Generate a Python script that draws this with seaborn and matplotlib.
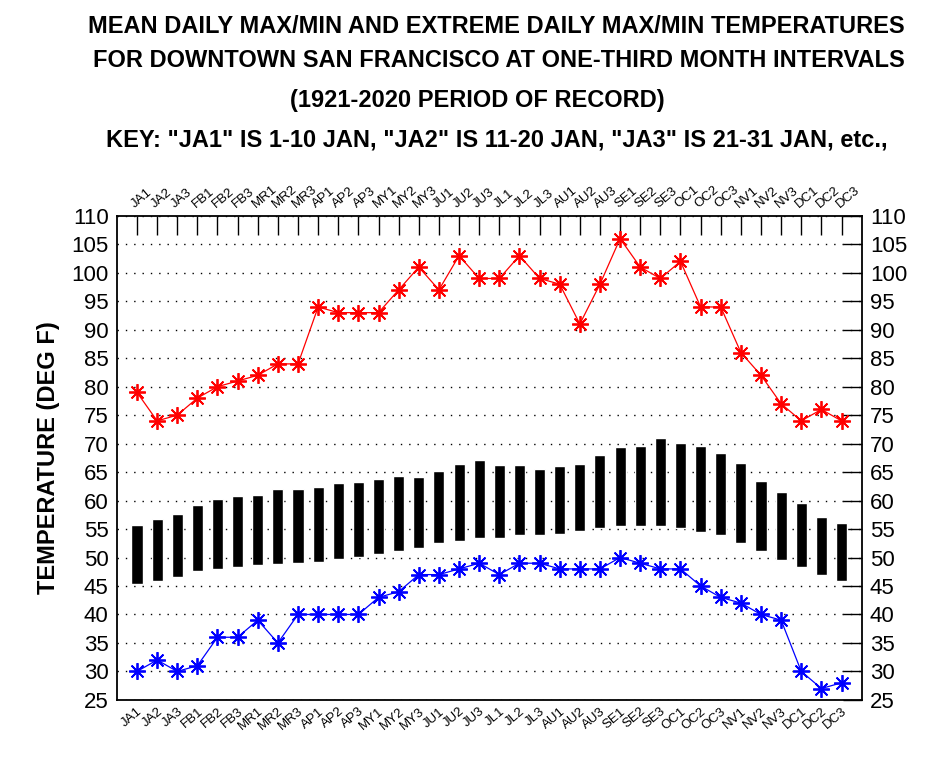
import numpy as np
import pandas as pd
import matplotlib
matplotlib.use("Agg")
import matplotlib.pyplot as plt
import seaborn as sns

# one-third month periods
periods = ["JA1", "JA2", "JA3", "FB1", "FB2", "FB3", "MR1", "MR2", "MR3",
           "AP1", "AP2", "AP3", "MY1", "MY2", "MY3", "JU1", "JU2", "JU3",
           "JL1", "JL2", "JL3", "AU1", "AU2", "AU3", "SE1", "SE2", "SE3",
           "OC1", "OC2", "OC3", "NV1", "NV2", "NV3", "DC1", "DC2", "DC3"]

# extreme daily max / min (deg F)
extreme_max = [79, 74, 75, 78, 80, 81, 82, 84, 84, 94, 93, 93, 93, 97, 101, 97, 103, 99,
               99, 103, 99, 98, 91, 98, 106, 101, 99, 102, 94, 94, 86, 82, 77, 74, 76, 74]
extreme_min = [30, 32, 30, 31, 36, 36, 39, 35, 40, 40, 40, 40, 43, 44, 47, 47, 48, 49,
               47, 49, 49, 48, 48, 48, 50, 49, 48, 48, 45, 43, 42, 40, 39, 30, 27, 28]

# mean daily max / min (deg F)
mean_max = [55.7, 56.7, 57.6, 59.2, 60.3, 60.8, 61.0, 62.0, 62.0, 62.4, 63.1, 63.2,
            63.8, 64.3, 64.1, 65.2, 66.4, 67.1, 66.2, 66.2, 65.5, 66.0, 66.4, 68.0,
            69.4, 69.6, 71.0, 70.1, 69.6, 68.3, 66.6, 63.4, 61.5, 59.6, 57.1, 56.1]
mean_min = [45.4, 45.8, 46.5, 47.7, 48.0, 48.3, 48.7, 48.9, 49.0, 49.3, 49.7, 50.1,
            50.7, 51.1, 51.7, 52.6, 52.9, 53.4, 53.4, 53.9, 53.9, 54.2, 54.6, 55.2,
            55.5, 55.5, 55.5, 55.2, 54.5, 53.9, 52.6, 51.1, 49.6, 48.3, 46.9, 45.8]

df = pd.DataFrame({"pos": np.arange(len(periods)), "period": periods,
                   "ext_max": extreme_max, "ext_min": extreme_min,
                   "mean_max": mean_max, "mean_min": mean_min})

sns.set_style("white")
plt.rcParams["font.family"] = ["Liberation Sans", "DejaVu Sans"]
plt.rcParams.update({"text.color": "black", "axes.labelcolor": "black",
                     "xtick.color": "black", "ytick.color": "black"})

fig, ax = plt.subplots(figsize=(9.5, 7.82), dpi=100)
fig.subplots_adjust(left=0.123, right=0.907, bottom=0.105, top=0.724)

# mean max/min bars
ax.bar(df["pos"], df["mean_max"] - df["mean_min"], bottom=df["mean_min"],
       width=0.55, color="black", zorder=3)

# extreme max / min lines
star = (8, 2, 0)
sns.lineplot(data=df, x="pos", y="ext_max", color="red", marker=star, markersize=12,
             markeredgecolor="red", markeredgewidth=1.3, linewidth=0.9, ax=ax, zorder=4)
sns.lineplot(data=df, x="pos", y="ext_min", color="blue", marker=star, markersize=12,
             markeredgecolor="blue", markeredgewidth=1.3, linewidth=0.9, ax=ax, zorder=4)

ax.set_xlim(-1, 36)
ax.set_ylim(25, 110)
ax.set_yticks(range(25, 111, 5))
ax.set_xticks(df["pos"])
ax.set_xticklabels(periods)
ax.set_xlabel("")
ax.set_ylabel("TEMPERATURE (DEG F)", fontsize=17, fontweight="bold", labelpad=8)

ax.yaxis.grid(True, color="black", linestyle=(0, (1, 5)), linewidth=1.0)
ax.xaxis.grid(False)

ax.tick_params(axis="both", direction="in", length=14, width=1, color="black",
               top=True, right=True, labeltop=True, labelright=True)
ax.tick_params(axis="y", labelsize=16, pad=6)
ax.tick_params(axis="x", labelsize=9.5, pad=4)

for t in ax.xaxis.get_major_ticks():
    t.label1.set_rotation(40)
    t.label1.set_ha("right")
    t.label1.set_rotation_mode("anchor")
    t.label2.set_rotation(40)
    t.label2.set_ha("left")
    t.label2.set_rotation_mode("anchor")

for s in ax.spines.values():
    s.set_color("black")
    s.set_linewidth(1.3)

# title lines
tkw = dict(ha="center", va="center", fontsize=17, fontweight="bold")
fig.text(0.522, 0.9655, "MEAN DAILY MAX/MIN AND EXTREME DAILY MAX/MIN TEMPERATURES", **tkw)
fig.text(0.525, 0.922, "FOR DOWNTOWN SAN FRANCISCO AT ONE-THIRD MONTH INTERVALS", **tkw)
fig.text(0.502, 0.872, "(1921-2020 PERIOD OF RECORD)", **tkw)
fig.text(0.523, 0.821, "KEY: \"JA1\" IS 1-10 JAN, \"JA2\" IS 11-20 JAN, \"JA3\" IS 21-31 JAN, etc.,", **tkw)

fig.savefig("out.png", dpi=100)
